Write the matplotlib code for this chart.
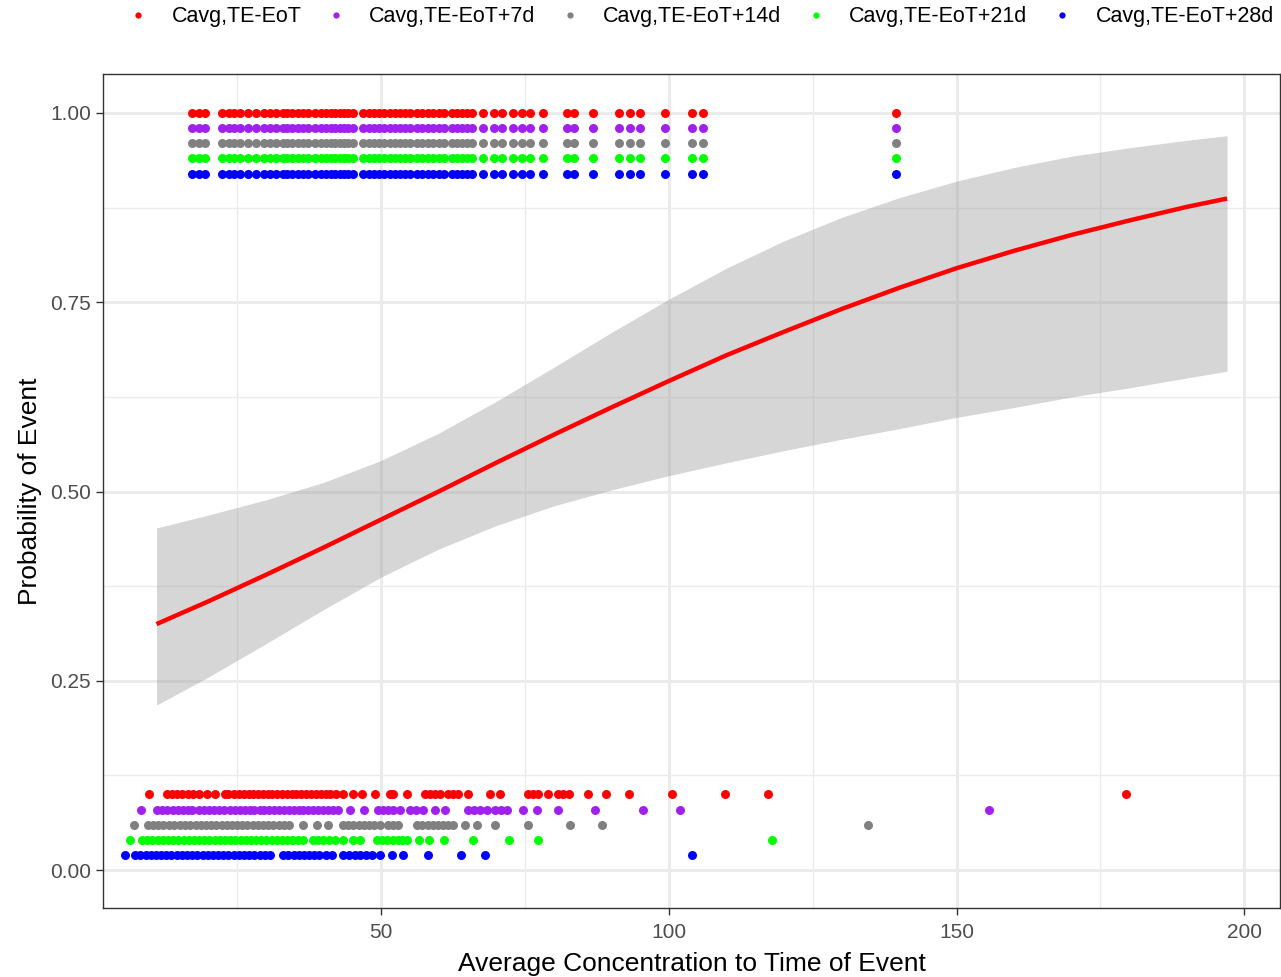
import matplotlib
matplotlib.use('Agg')
import matplotlib.pyplot as plt
from matplotlib.lines import Line2D
from matplotlib.ticker import FixedLocator

plt.rcParams['font.family'] = ['Liberation Sans', 'DejaVu Sans']

# series names and colours
series = ['Cavg,TE-EoT', 'Cavg,TE-EoT+7d', 'Cavg,TE-EoT+14d',
          'Cavg,TE-EoT+21d', 'Cavg,TE-EoT+28d']
colors = ['#FF0000', '#A020F0', '#808080', '#00FF00', '#0000FF']

# event (y=1) concentrations, same for every series
event_x = [17.1, 18.3, 19.4, 22.4, 23.6, 24.5, 25.5, 26.9, 28.3,
           29.6, 30.7, 31.8, 32.9, 33.7, 34.6, 35.5, 36.5, 37.3,
           38.6, 39.5, 40.4, 41.3, 42.0, 42.9, 43.6, 44.3, 45.1,
           46.9, 47.9, 48.8, 49.7, 50.6, 51.5, 52.4,
           53.3, 54.2, 55.1, 56.2, 57.2, 58.1, 59.1, 60.0, 60.9, 62.3,
           63.2, 64.0, 65.0, 65.8, 67.7, 69.6, 71.0, 72.9, 74.5, 75.9,
           78.1, 82.3, 83.5, 86.8, 91.3, 93.2, 95.0, 99.3, 104.0, 105.9,
           139.4]

# non-event (y=0) concentrations per series
nonevent_x = [
    [9.7, 12.8, 13.7, 14.6, 15.5, 16.5, 17.4, 18.3, 19.8, 21.2, 22.9,
     23.5, 24.4, 25.3, 26.2, 27.1, 27.8, 28.6, 29.5, 30.3, 31.1, 32.0,
     32.8, 33.6, 34.5, 35.3, 36.1, 37.0, 37.8, 38.7, 39.5, 40.4, 41.2,
     42.1, 43.4, 45.1, 46.7, 49.0, 51.6, 52.1, 54.5, 57.6, 58.5, 59.3,
     60.2, 61.6, 62.5, 63.4, 65.1, 68.9, 70.6, 75.5, 76.4, 77.3, 79.0,
     80.7, 81.7, 82.7, 86.0, 89.1, 93.1, 100.5, 109.7, 117.2, 179.5],
    [8.3, 11.1, 12.0, 12.9, 13.8, 14.7, 15.6, 16.4, 17.2, 18.4, 19.2,
     20.1, 21.0, 21.9, 22.8, 23.8, 24.7, 25.5, 26.4, 27.2, 28.0, 28.9,
     29.7, 30.6, 31.4, 32.3, 33.1, 34.0, 34.8, 35.7, 36.5, 37.4, 38.2,
     39.1, 39.9, 40.8, 41.7, 42.6, 44.6, 47.0, 49.5, 50.4, 51.3, 52.1,
     53.3, 55.0, 56.1, 57.3, 59.4, 61.1, 65.1, 66.1, 67.2, 68.4, 69.8,
     70.9, 71.9, 74.7, 77.1, 80.7, 87.2, 95.5, 101.9, 155.7],
    [7.1, 9.5, 10.4, 11.3, 12.2, 13.1, 14.0, 15.1, 16.0, 16.9, 17.8,
     18.7, 19.6, 20.5, 21.4, 22.3, 23.2, 24.1, 25.0, 25.9, 26.8, 27.7,
     28.6, 29.5, 30.4, 31.3, 32.2, 33.1, 34.0, 36.5, 38.9, 40.8, 43.4,
     44.3, 45.2, 46.1, 47.0, 47.9, 48.8, 49.8, 51.2, 52.1, 53.0, 56.3,
     57.2, 58.1, 59.0, 59.9, 60.8, 61.6, 62.5, 64.6, 66.7, 69.8, 75.5,
     82.8, 88.4, 134.7],
    [6.4, 8.5, 9.4, 10.3, 11.2, 12.1, 13.0, 13.9, 14.8, 15.7, 16.6,
     17.5, 18.4, 19.3, 20.2, 21.1, 22.0, 22.9, 23.8, 24.7, 25.6, 26.5,
     27.4, 28.3, 29.2, 30.1, 31.0, 31.9, 32.8, 33.7, 34.6, 35.6, 36.5,
     38.2, 39.1, 40.0, 41.0, 42.0, 43.4, 45.1, 46.4, 49.3, 50.2, 51.1,
     52.0, 52.9, 53.7, 54.5, 56.6, 58.3, 60.9, 66.0, 72.2, 77.3, 117.9],
    [5.6, 7.3, 8.2, 9.1, 10.0, 10.9, 11.8, 12.7, 13.6, 14.5, 15.4, 16.3,
     17.2, 18.1, 19.0, 19.9, 20.8, 21.7, 22.6, 23.5, 24.4, 25.3, 26.2,
     27.1, 28.0, 28.9, 29.8, 30.7, 33.0, 33.9, 34.8, 35.7, 36.6, 37.5,
     38.4, 39.3, 40.4, 41.5, 43.4, 44.5, 45.5, 46.4, 47.4, 48.4, 49.8,
     51.9, 53.8, 58.2, 63.9, 68.1, 104.0],
]

# vertical offsets so the series don't sit on top of each other
event_y = [1.00, 0.98, 0.96, 0.94, 0.92]
nonevent_y = [0.10, 0.08, 0.06, 0.04, 0.02]

# fitted logistic curve (first series) with 95% confidence band
fit_x = [11, 20, 30, 40, 50, 60, 70, 80, 90, 100, 110, 120, 130, 140,
         150, 160, 170, 180, 190, 197]
fit_y = [0.325, 0.355, 0.390, 0.426, 0.463, 0.500, 0.538, 0.575, 0.611,
         0.646, 0.680, 0.711, 0.741, 0.769, 0.795, 0.818, 0.839, 0.858,
         0.876, 0.887]
band_lo = [0.218, 0.255, 0.299, 0.344, 0.387, 0.424, 0.455, 0.481, 0.502,
           0.521, 0.538, 0.554, 0.569, 0.583, 0.598, 0.611, 0.625, 0.637,
           0.650, 0.659]
band_hi = [0.452, 0.469, 0.489, 0.512, 0.541, 0.577, 0.619, 0.664, 0.710,
           0.754, 0.795, 0.831, 0.862, 0.888, 0.910, 0.928, 0.943, 0.954,
           0.964, 0.970]

fig = plt.figure(figsize=(12.81, 9.77), dpi=100)
ax = fig.add_axes([103 / 1281, 1 - 908 / 977, 1177 / 1281, 834 / 977])

for i, c in enumerate(colors):
    ax.scatter(event_x, [event_y[i]] * len(event_x), s=42, color=c,
               linewidths=0, zorder=4)
    ax.scatter(nonevent_x[i], [nonevent_y[i]] * len(nonevent_x[i]), s=42,
               color=c, linewidths=0, zorder=4)

ax.fill_between(fit_x, band_lo, band_hi, color='#999999', alpha=0.4,
                linewidth=0, zorder=2)
ax.plot(fit_x, fit_y, color='#FF0000', lw=3.2, zorder=3,
        solid_capstyle='butt')

ax.set_xlim(1.7, 206.2)
ax.set_ylim(-0.050, 1.0515)

ax.set_xticks([50, 100, 150, 200])
ax.set_yticks([0.0, 0.25, 0.5, 0.75, 1.0])
ax.set_yticklabels(['0.00', '0.25', '0.50', '0.75', '1.00'])
ax.xaxis.set_minor_locator(FixedLocator([25, 75, 125, 175]))
ax.yaxis.set_minor_locator(FixedLocator([0.125, 0.375, 0.625, 0.875]))

ax.grid(which='major', color='#EBEBEB', lw=2.1, zorder=0)
ax.grid(which='minor', color='#EBEBEB', lw=1.0, zorder=0)
ax.set_axisbelow(True)

ax.tick_params(which='major', length=4.7, width=1.0, color='#333333',
               labelsize=15, labelcolor='#4D4D4D')
ax.tick_params(axis='x', which='major', pad=6)
ax.tick_params(axis='y', which='major', pad=3.8)
ax.tick_params(which='minor', length=0)
for sp in ax.spines.values():
    sp.set_color('#333333')
    sp.set_linewidth(1.0)

ax.set_xlabel('Average Concentration to Time of Event', fontsize=19,
              labelpad=7)
ax.set_ylabel('Probability of Event', fontsize=19, labelpad=6)

handles = [Line2D([], [], ls='none', marker='o', markersize=4.5,
                  markerfacecolor=c, markeredgewidth=0) for c in colors]
fig.legend(handles, series, loc='center', bbox_to_anchor=(0.547, 0.9826),
           ncol=5, frameon=False, fontsize=15.5, handlelength=1.0,
           handletextpad=1.03, columnspacing=1.12)

fig.savefig('out.png', dpi=100)
